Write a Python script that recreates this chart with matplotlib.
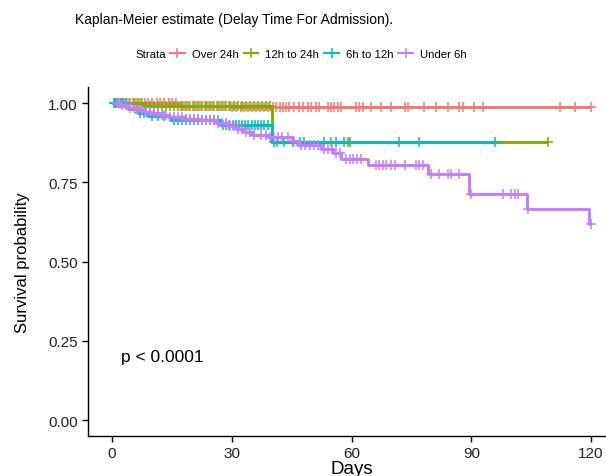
import numpy as np
import matplotlib
matplotlib.use("Agg")
import matplotlib.pyplot as plt
from matplotlib.lines import Line2D

plt.rcParams['font.family'] = ['Liberation Sans', 'DejaVu Sans']

# strata names and ggplot hue colours
strata = ["Over 24h", "12h to 24h", "6h to 12h", "Under 6h"]
colors = ["#F8766D", "#7CAE00", "#00BFC4", "#C77CFF"]

# step curves: event times and survival after each time, plus last follow-up
over24_t = [0, 17, 30]
over24_s = [1.0, 0.992, 0.987]
over24_end = 120

h12_24_t = [0, 8, 40]
h12_24_s = [1.0, 0.990, 0.879]
h12_24_end = 109.3

h6_12_t = [0, 4, 6.5, 9, 14.5, 27, 40]
h6_12_s = [1.0, 0.982, 0.969, 0.961, 0.946, 0.930, 0.879]
h6_12_end = 96

under6_t = [0, 2, 4, 6, 8, 10, 12, 14, 18, 22, 26, 29, 31, 33, 35,
            39, 45, 46.5, 52.4, 55.3, 57.4, 64.1, 79.1, 89.5, 104, 119.5]
under6_s = [1.0, 0.993, 0.986, 0.979, 0.973, 0.968, 0.962, 0.957, 0.951, 0.946,
            0.938, 0.928, 0.917, 0.908, 0.901,
            0.892, 0.881, 0.869, 0.856, 0.842, 0.824, 0.805, 0.777, 0.712, 0.667, 0.620]
under6_end = 120

# censoring times (the "+" marks)
over24_cens = [1, 2, 3.1, 4, 5.2, 6.1, 7, 8.2, 9.1, 10, 11.2, 12.1, 13, 14.2, 15.1,
               16, 17.2, 18.1, 19, 20.2, 21.1, 22, 23.2, 24.1, 25, 26.2, 27.1, 28,
               29.2, 30.1, 31, 32.2, 33.1, 34, 35.2, 36.1, 37, 38.2, 39.1, 40.3,
               41.1, 42, 42.8, 43.6, 44.4, 45.6, 46.9, 47.8, 49, 49.9, 51.1, 51.9,
               54, 54.9, 55.7, 56.6, 57.4, 61.2, 62, 62.8, 64.9, 67.4, 69.9, 73.3,
               74.1, 78.2, 81.1, 84.1, 87, 87.9, 90.8, 93, 112.1, 116, 120]
h12_24_cens = [0.5, 1.5, 2.5, 3.5, 4.5, 5.5, 6.5, 7.5, 8.5, 9.5, 10.5, 11.5, 12.5,
               13.5, 14.5, 15.5, 16.5, 17.5, 18.5, 19.5, 20.5, 21.5, 22.5, 23.5,
               24.5, 25.5, 26.5, 27.5, 28.5, 29.5, 30.5, 31.5, 32.5, 33.5, 34.5,
               35.5, 36.5, 37.5, 38.5, 39.5, 54.9, 59, 59.7, 109.3]
h6_12_cens = [0.5, 1, 1.6, 2.2, 2.8, 3.4, 7, 8, 10, 11.5, 13, 15.5, 16.5, 17.5, 18.5,
              19.5, 20.5, 21.5, 22.5, 23.5, 24.5, 25.5, 26.5, 27.8, 28.6, 29.4,
              30.2, 31, 31.8, 32.6, 33.4, 34.2, 35, 35.8, 36.6, 37.4, 38.2, 39,
              40.5, 41.3, 43.2, 45.3, 47.2, 48, 53.2, 56.1, 58, 72, 77, 96]
under6_cens = [1.5, 2.5, 3.5, 4.5, 5.5, 6.5, 7.5, 8.5, 9.5, 10.5, 11.5, 12.5, 13.5,
               14.5, 15.5, 16.5, 17.5, 18.5, 19.5, 20.5, 21.5, 22.5, 23.5, 24.5,
               25.5, 26.5, 27.5, 28.5, 29.5, 30.5, 31.5, 32.5, 33.5, 34.5, 35.5,
               37.4, 38.5, 39.5, 40.5, 41.5, 42.5, 44, 45.5, 47.4, 48.4, 49.5, 50.5,
               51.5, 53, 54, 55, 56, 57, 58.5, 59.5, 60.5, 61.5, 62.5, 66.2, 67,
               67.8, 68.7, 69.9, 70.8, 73.3, 76.2, 77, 77.9, 80, 82, 84.1, 85, 87,
               90, 98, 100, 101, 101.8, 104.3, 120]

curves = [
    (over24_t, over24_s, over24_end, over24_cens),
    (h12_24_t, h12_24_s, h12_24_end, h12_24_cens),
    (h6_12_t, h6_12_s, h6_12_end, h6_12_cens),
    (under6_t, under6_s, under6_end, under6_cens),
]

fig = plt.figure(figsize=(6.06, 4.77), dpi=100)
ax = fig.add_axes([88 / 606, 1 - 437 / 477, 527 / 606, 348.7 / 477])

for (t, s, end, cens), col in zip(curves, colors):
    t = np.array(t + [end], dtype=float)
    s = np.array(s + [s[-1]], dtype=float)
    ax.step(t, s, where="post", color=col, lw=2.1, solid_capstyle="butt")
    c = np.array(cens, dtype=float)
    idx = np.searchsorted(t, c, side="right") - 1
    ax.plot(c, s[idx], ls="none", marker="+", ms=7.5, mew=1.1, color=col)

ax.set_xlim(-6, 126)
ax.set_ylim(-0.05, 1.05)
ax.set_xticks([0, 30, 60, 90, 120])
ax.set_yticks([0, 0.25, 0.5, 0.75, 1.0])
ax.set_yticklabels(["0.00", "0.25", "0.50", "0.75", "1.00"])
for side in ["top", "right"]:
    ax.spines[side].set_visible(False)
for side in ["left", "bottom"]:
    ax.spines[side].set_linewidth(1.0)
ax.tick_params(labelsize=11, length=4, width=1, colors="black", labelcolor="#222222")
ax.set_xlabel("Days", fontsize=13.5, labelpad=0)
ax.set_ylabel("Survival probability", fontsize=12, labelpad=13)

ax.text(2.3, 0.20, "p < 0.0001", fontsize=12.5, va="center", ha="left")

fig.text(75 / 606, 1 - 20 / 477, "Kaplan-Meier estimate (Delay Time For Admission).",
         fontsize=10, va="center", ha="left")

fig.text(135 / 606, 1 - 55 / 477, "Strata", fontsize=8.2, va="center", ha="left")
handles = [Line2D([], [], color=c, lw=1.5, marker="+", ms=7, mew=1.1) for c in colors]
fig.legend(handles, strata, loc="center left", bbox_to_anchor=(170 / 606, 1 - 55 / 477),
           ncol=4, frameon=False, fontsize=8.2, handlelength=1.3, handletextpad=0.6,
           columnspacing=0.45, borderaxespad=0, borderpad=0)

fig.savefig("out.png", dpi=100)
